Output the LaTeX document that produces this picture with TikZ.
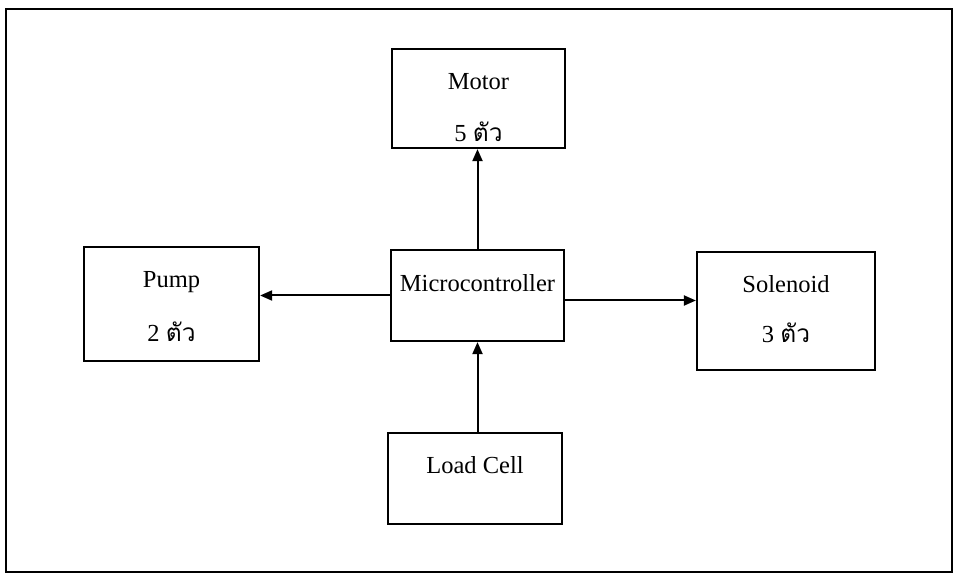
\documentclass[tikz,border=0pt]{standalone}
\usepackage{fontspec}
\setmainfont{Liberation Serif}
\newfontfamily\thaifont[Script=Thai]{Loma}
\usetikzlibrary{arrows.meta,positioning}
\tikzset{
  block frame/.style={draw=black, line width=2.2pt},
  block unit/.style={draw=black, line width=2.2pt, inner sep=0pt},
  block text/.style={font=\fontsize{24.5}{29}\selectfont, anchor=base, inner sep=0pt},
  block signal/.style={draw=black, line width=2pt, -{Triangle[length=12pt,width=10pt]}},
}
\newcommand{\UnitCount}[1]{#1 {\thaifont ตัว}}

\begin{document}
\begin{tikzpicture}[x=1pt,y=-1pt]
  \useasboundingbox (0,0) rectangle (954,585);
  \draw[block frame] (6,9) rectangle (952,572);

  % controller
  \node[block unit, minimum width=173pt, minimum height=91pt] (micro) at (477.5,295.5) {};
  \node[block text] (microname) at (477.5,292) {Microcontroller};

  % outputs
  \node[block unit, minimum width=173pt, minimum height=99pt] (motor) at (478.5,98.5) {};
  \node[block text] (motorname) at (478.5,90) {Motor};
  \node[block text] (motorcount) at (478.5,142) {\UnitCount{5}};

  \node[block unit, minimum width=175pt, minimum height=114pt] (pump) at (171.5,304) {};
  \node[block text] (pumpname) at (171.5,288) {Pump};
  \node[block text] (pumpcount) at (171.5,342) {\UnitCount{2}};

  \node[block unit, minimum width=178pt, minimum height=118pt] (solenoid) at (786,311) {};
  \node[block text] (solenoidname) at (786,293) {Solenoid};
  \node[block text] (solenoidcount) at (786,343) {\UnitCount{3}};

  % input
  \node[block unit, minimum width=174pt, minimum height=91pt] (loadcell) at (475,478.5) {};
  \node[block text] (loadcellname) at (475,473) {Load Cell};

  \draw[block signal] (micro.north) -- (micro.north |- motor.south);
  \draw[block signal] (micro.west) -- (micro.west -| pump.east);
  \draw[block signal] ([yshift=-5pt]micro.east) -- ([yshift=-5pt]micro.east -| solenoid.west);
  \draw[block signal] (micro.south |- loadcell.north) -- (micro.south);
\end{tikzpicture}
\end{document}
